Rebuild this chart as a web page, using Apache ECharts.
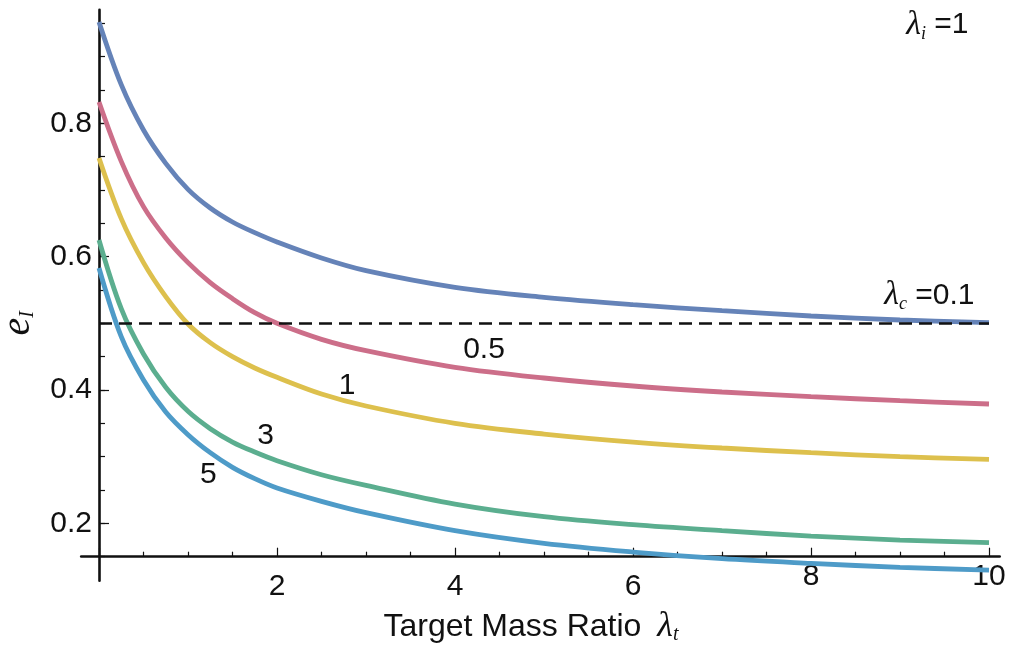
<!DOCTYPE html>
<html>
<head>
<meta charset="utf-8">
<script src="https://cdn.jsdelivr.net/npm/echarts@6/dist/echarts.min.js"></script>
<style>
html,body{margin:0;padding:0;background:#ffffff;}
#chart{width:1011px;height:647px;}
</style>
</head>
<body>
<div id="chart"></div>
<script>
// ---- data ----
const lambdaT = [0, 0.25, 0.5, 0.75, 1, 1.25, 1.5, 1.75, 2, 2.5, 3, 4, 5, 6, 7, 8, 9, 10];
const eLc01 = [0.952, 0.858, 0.790, 0.740, 0.701, 0.673, 0.652, 0.636, 0.622, 0.598, 0.579, 0.554, 0.539, 0.528, 0.519, 0.511, 0.505, 0.501];
const eLc05 = [0.832, 0.743, 0.675, 0.628, 0.591, 0.561, 0.537, 0.516, 0.500, 0.476, 0.459, 0.434, 0.418, 0.406, 0.397, 0.390, 0.384, 0.379];
const eLc1  = [0.748, 0.657, 0.591, 0.540, 0.499, 0.471, 0.450, 0.433, 0.419, 0.394, 0.376, 0.350, 0.334, 0.322, 0.313, 0.306, 0.300, 0.296];
const eLc3  = [0.625, 0.522, 0.454, 0.404, 0.368, 0.342, 0.322, 0.307, 0.294, 0.273, 0.257, 0.229, 0.210, 0.198, 0.189, 0.181, 0.175, 0.171];
const eLc5  = [0.583, 0.480, 0.415, 0.367, 0.333, 0.306, 0.284, 0.267, 0.253, 0.233, 0.216, 0.189, 0.170, 0.157, 0.147, 0.140, 0.134, 0.130];
const seriesNames = ['0.1', '0.5', '1', '3', '5'];
const referenceLevel = 0.5;

const xTickLabels = ['2', '4', '6', '8', '10'];
const xRaisedLabels = ['8', '10'];
const yTickLabels = ['0.2', '0.4', '0.6', '0.8'];

// annotation texts and their anchor points (data space)
const annText = ['0.5', '1', '3', '5', 'lc', 'li'];
const annX = [4.326, 2.787, 1.873, 1.228, 9.33, 9.42];
const annY = [0.4604, 0.4067, 0.3313, 0.2735, 0.5417, 0.9474];

// ---- styles ----
const colors = ['#6583B8', '#CC6E89', '#DDC04D', '#5BAE8F', '#4E9BC8'];
const ink = '#111111';
const sans = 'Liberation Sans, Arial, Helvetica, sans-serif';
const serif = 'Liberation Serif, Times New Roman, serif';

const allSeries = [eLc01, eLc05, eLc1, eLc3, eLc5];

const chart = echarts.init(document.getElementById('chart'), null, {renderer: 'canvas'});

const curveSeries = allSeries.map((vals, i) => ({
  name: seriesNames[i],
  type: 'line',
  xAxisIndex: 0,
  yAxisIndex: 0,
  data: lambdaT.map((x, k) => [x, vals[k]]),
  smooth: 0.35,
  showSymbol: false,
  symbol: 'none',
  clip: false,
  silent: true,
  z: 3,
  lineStyle: {color: colors[i], width: 4.8, cap: 'butt'}
}));

curveSeries[0].markLine = {
  silent: true,
  symbol: 'none',
  z: 10,
  label: {show: false},
  lineStyle: {type: [13, 7], color: '#111', width: 2.6},
  data: [{yAxis: referenceLevel}]
};

const lamRich = {
  lam: {fontFamily: serif, fontStyle: 'italic', fontSize: 34, color: ink, lineHeight: 36},
  sub: {fontFamily: serif, fontStyle: 'italic', fontSize: 18, color: ink, lineHeight: 12, verticalAlign: 'bottom'},
  txt: {fontFamily: sans, fontSize: 30, color: ink, lineHeight: 36},
  num: {fontFamily: sans, fontSize: 30, color: ink, lineHeight: 30}
};

function annFormatter(p) {
  const t = annText[p.dataIndex];
  if (t === 'lc') return '{lam|λ}{sub|c}{txt| =0.1}';
  if (t === 'li') return '{lam|λ}{sub|i}{txt| =1}';
  return '{num|' + t + '}';
}

const annSeries = {
  type: 'scatter',
  xAxisIndex: 0,
  yAxisIndex: 0,
  symbolSize: 0,
  silent: true,
  clip: false,
  z: 5,
  itemStyle: {opacity: 1, color: ink},
  data: annX.map((x, k) => [x, annY[k]]),
  label: {
    show: true,
    position: 'inside',
    align: 'center',
    verticalAlign: 'middle',
    color: ink,
    opacity: 1,
    formatter: annFormatter,
    rich: lamRich
  }
};

const option = {
  animation: false,
  backgroundColor: '#ffffff',
  grid: [
    // A: data, x ticks, minor y ticks (y 0.15..0.95)
    {left: 99, right: 22, top: 23.3, bottom: 90.3, containLabel: false, outerBoundsMode: 'none'},
    // B: major y ticks + labels (y 0.2..0.8)
    {left: 99, right: 22, top: 123.3, bottom: 123.7, containLabel: false, outerBoundsMode: 'none'},
    // C: crossing axis lines
    {left: 81.2, right: 11.3, top: 9.7, bottom: 66.3, containLabel: false, outerBoundsMode: 'none'}
  ],
  xAxis: [
    {
      gridIndex: 0, type: 'value', min: 0, max: 10, interval: 2,
      axisLine: {show: false},
      axisTick: {show: true, inside: true, length: 9, lineStyle: {color: ink, width: 1.2}},
      minorTick: {show: true, splitNumber: 4, length: 5, lineStyle: {color: ink, width: 1.2}},
      splitLine: {show: false},
      minorSplitLine: {show: false},
      axisLabel: {
        show: true, margin: 15, color: ink, fontFamily: sans, fontSize: 30,
        formatter: function (v) {
          const s = String(v);
          if (xTickLabels.indexOf(s) < 0) return '';
          if (xRaisedLabels.indexOf(s) >= 0) return '{hi|' + s + '}';
          return '{n|' + s + '}';
        },
        rich: {
          n: {fontFamily: sans, fontSize: 30, color: ink, lineHeight: 30},
          hi: {fontFamily: sans, fontSize: 30, color: ink, lineHeight: 10}
        }
      },
      name: '{a|Target Mass Ratio}{l|λ}{s|t}',
      nameLocation: 'middle',
      nameGap: 52,
      nameTextStyle: {
        padding: [0, 26, 0, 0],
        rich: {
          a: {fontFamily: sans, fontSize: 32, color: ink, lineHeight: 36},
          l: {fontFamily: serif, fontStyle: 'italic', fontSize: 36, color: ink, lineHeight: 36, padding: [0, 0, 0, 16]},
          s: {fontFamily: serif, fontStyle: 'italic', fontSize: 20, color: ink, lineHeight: 12, verticalAlign: 'bottom'}
        }
      }
    },
    {gridIndex: 1, type: 'value', min: 0, max: 10, show: false},
    {
      gridIndex: 2, type: 'value', min: -0.2, max: 10.12,
      axisLine: {show: true, onZero: true, lineStyle: {color: ink, width: 2.6}},
      axisTick: {show: false}, axisLabel: {show: false}, splitLine: {show: false}
    }
  ],
  yAxis: [
    {
      gridIndex: 0, type: 'value', min: 0.15, max: 0.95, interval: 0.05,
      axisLine: {show: false},
      axisTick: {show: true, inside: true, length: 6, lineStyle: {color: ink, width: 1.2}},
      axisLabel: {show: false},
      splitLine: {show: false}
    },
    {
      gridIndex: 1, type: 'value', min: 0.2, max: 0.8, interval: 0.2,
      axisLine: {show: false},
      axisTick: {show: true, inside: true, length: 10, lineStyle: {color: ink, width: 1.2}},
      splitLine: {show: false},
      axisLabel: {
        show: true, margin: 7, color: ink, fontFamily: sans, fontSize: 30,
        formatter: function (v) {
          const s = v.toFixed(1);
          return yTickLabels.indexOf(s) >= 0 ? s : '';
        }
      },
      name: '{e|e}{s|I}',
      nameLocation: 'middle',
      nameRotate: 90,
      nameGap: 61,
      nameTextStyle: {
        rich: {
          e: {fontFamily: serif, fontStyle: 'italic', fontSize: 40, color: ink, lineHeight: 40},
          s: {fontFamily: serif, fontStyle: 'italic', fontSize: 20, color: ink, lineHeight: 14, verticalAlign: 'bottom'}
        }
      }
    },
    {
      gridIndex: 2, type: 'value', min: -0.036, max: 0.8205,
      axisLine: {show: true, onZero: true, lineStyle: {color: ink, width: 2.6}},
      axisTick: {show: false}, axisLabel: {show: false}, splitLine: {show: false}
    }
  ],
  series: curveSeries.concat([annSeries])
};

chart.setOption(option);
</script>
</body>
</html>
